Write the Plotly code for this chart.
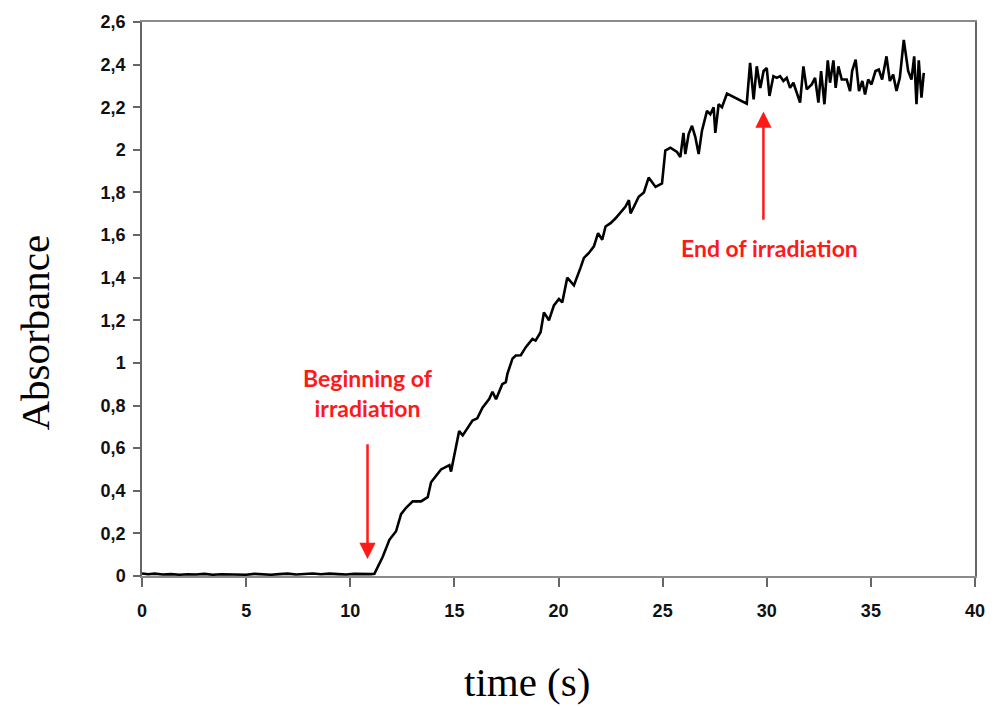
import plotly.graph_objects as go

# Time (s) and absorbance values
time_s = [0, 0.3, 0.6, 1.0, 1.4, 1.8, 2.2, 2.6, 3.0, 3.4, 3.8, 4.2, 4.6, 5.0, 5.4, 5.8, 6.2, 6.6, 7.0,
          7.4, 7.8, 8.2, 8.6, 9.0, 9.4, 9.8, 10.2, 10.6, 11.0,
          11.16, 11.56, 11.88, 12.2, 12.44, 12.68, 13.0, 13.4, 13.72, 13.88, 14.36, 14.76, 14.84,
          15.08, 15.23, 15.4, 15.87, 16.1, 16.35, 16.67, 16.83, 17.0, 17.3, 17.47, 17.55, 17.79,
          17.95, 18.19, 18.43, 18.75, 18.9, 19.14, 19.3, 19.54, 19.78, 20.02, 20.18, 20.42, 20.74,
          21.06, 21.22, 21.46, 21.7, 21.9, 22.1, 22.26, 22.5, 22.74, 23.06, 23.21, 23.38, 23.46,
          23.62, 23.85, 24.1, 24.33, 24.66, 24.97, 25.13, 25.37, 25.69, 25.85, 26.0, 26.09, 26.25,
          26.41, 26.57, 26.73, 26.89, 27.13, 27.29, 27.45, 27.53, 27.69, 27.85, 28.09, 29.04, 29.2,
          29.37, 29.52, 29.69, 29.85, 30.0, 30.13, 30.32, 30.48, 30.64, 30.8, 30.96, 31.12, 31.28,
          31.44, 31.6, 31.76, 31.92, 32.16, 32.32, 32.48, 32.61, 32.77, 32.93, 33.04, 33.2, 33.31,
          33.44, 33.6, 33.84, 34.0, 34.1, 34.27, 34.43, 34.59, 34.72, 34.87, 35.03, 35.22, 35.38,
          35.54, 35.75, 35.91, 36.07, 36.23, 36.39, 36.58, 36.79, 36.95, 37.08, 37.19, 37.3, 37.43,
          37.54]
absorbance = [0.012, 0.008, 0.011, 0.007, 0.009, 0.006, 0.008, 0.007, 0.010, 0.006, 0.008, 0.007,
              0.009, 0.006, 0.010, 0.008, 0.006, 0.009, 0.011, 0.007, 0.010, 0.012, 0.008, 0.011,
              0.009, 0.007, 0.010, 0.008, 0.009,
              0.01, 0.09, 0.17, 0.21, 0.29, 0.32, 0.35, 0.35, 0.37, 0.44, 0.50, 0.52, 0.49,
              0.60, 0.68, 0.66, 0.73, 0.74, 0.79, 0.83, 0.865, 0.83, 0.90, 0.91, 0.95, 1.02,
              1.035, 1.036, 1.074, 1.113, 1.105, 1.144, 1.237, 1.20, 1.27, 1.30, 1.284, 1.40, 1.364,
              1.447, 1.493, 1.516, 1.547, 1.609, 1.578, 1.64, 1.656, 1.679, 1.718, 1.733, 1.764, 1.702,
              1.733, 1.78, 1.80, 1.87, 1.826, 1.842, 1.997, 2.01, 1.99, 1.966, 2.08, 1.98, 2.074,
              2.113, 2.06, 1.98, 2.09, 2.183, 2.167, 2.199, 2.08, 2.214, 2.20, 2.264, 2.217, 2.408,
              2.237, 2.392, 2.29, 2.37, 2.384, 2.253, 2.346, 2.338, 2.346, 2.323, 2.338, 2.291, 2.315,
              2.268, 2.222, 2.392, 2.284, 2.307, 2.338, 2.222, 2.37, 2.214, 2.42, 2.315, 2.42, 2.291,
              2.392, 2.33, 2.33, 2.276, 2.37, 2.423, 2.276, 2.323, 2.26, 2.33, 2.307, 2.37, 2.377,
              2.33, 2.439, 2.323, 2.353, 2.276, 2.338, 2.516, 2.37, 2.33, 2.439, 2.214, 2.42, 2.245,
              2.361]

y_tickvals = [0, 0.2, 0.4, 0.6, 0.8, 1.0, 1.2, 1.4, 1.6, 1.8, 2.0, 2.2, 2.4, 2.6]
y_ticktext = ["0", "0,2", "0,4", "0,6", "0,8", "1", "1,2", "1,4", "1,6", "1,8", "2", "2,2", "2,4", "2,6"]
x_tickvals = [0, 5, 10, 15, 20, 25, 30, 35, 40]

RED = "#ff1a1a"

fig = go.Figure()
fig.add_trace(go.Scatter(x=time_s, y=absorbance, mode="lines",
                         line=dict(color="black", width=2.6), showlegend=False))

tick_font = dict(family="Liberation Sans", size=18, color="#111111", weight="bold")

fig.update_layout(
    width=997, height=707,
    margin=dict(l=142, r=20, t=17, b=131),
    paper_bgcolor="white", plot_bgcolor="white",
    xaxis=dict(range=[0, 40], tickvals=x_tickvals, ticks="outside", ticklen=9, tickwidth=1.5,
               tickcolor="#666666", showline=True, linecolor="#8a8a8a", linewidth=1.5, mirror=True,
               showgrid=False, zeroline=False, tickfont=tick_font, ticklabelstandoff=9),
    yaxis=dict(range=[0, 2.6], tickvals=y_tickvals, ticktext=y_ticktext, ticks="outside", ticklen=7,
               tickwidth=1.5, tickcolor="#666666", showline=True, linecolor="#666666", linewidth=1.5,
               mirror=True, showgrid=False, zeroline=False, tickfont=tick_font, ticklabelstandoff=4),
    annotations=[
        dict(text="Absorbance", xref="paper", yref="paper", x=-0.128, y=0.44, textangle=-90,
             showarrow=False, xanchor="center", yanchor="middle",
             font=dict(family="Liberation Serif", size=41, color="black")),
        dict(text="time (s)", xref="paper", yref="paper", x=0.462, y=-0.191,
             showarrow=False, xanchor="center", yanchor="middle",
             font=dict(family="Liberation Serif", size=41, color="black")),
        dict(text="<b>Beginning of<br>irradiation</b>", x=10.83, y=0.86, xref="x", yref="y",
             showarrow=False, xanchor="center", yanchor="middle",
             font=dict(family="Lato", size=23, color=RED)),
        dict(x=10.83, y=0.08, ax=10.83, ay=0.625, xref="x", yref="y", axref="x", ayref="y",
             text="", showarrow=True, arrowhead=2, arrowsize=1.3, arrowwidth=2.5, arrowcolor=RED),
        dict(text="<b>End of irradiation</b>", x=30.13, y=1.54, xref="x", yref="y",
             showarrow=False, xanchor="center", yanchor="middle",
             font=dict(family="Lato", size=23, color=RED)),
        dict(x=29.84, y=2.18, ax=29.84, ay=1.665, xref="x", yref="y", axref="x", ayref="y",
             text="", showarrow=True, arrowhead=2, arrowsize=1.3, arrowwidth=2.5, arrowcolor=RED),
    ],
)

fig.write_html("out.html")
